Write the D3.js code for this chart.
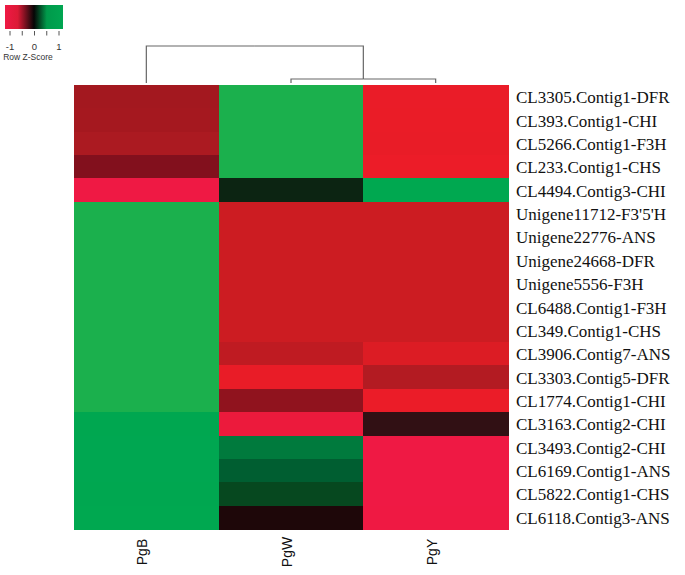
<!DOCTYPE html>
<html>
<head>
<meta charset="utf-8">
<script src="https://cdn.jsdelivr.net/npm/d3@7"></script>
<style>
  body { margin: 0; background: #fff; }
  svg { display: block; }
</style>
</head>
<body>
<div id="chart"></div>
<script>
var samples = ["PgB", "PgW", "PgY"];

var genes = [
  "CL3305.Contig1-DFR", "CL393.Contig1-CHI", "CL5266.Contig1-F3H", "CL233.Contig1-CHS",
  "CL4494.Contig3-CHI", "Unigene11712-F3'5'H", "Unigene22776-ANS", "Unigene24668-DFR",
  "Unigene5556-F3H", "CL6488.Contig1-F3H", "CL349.Contig1-CHS", "CL3906.Contig7-ANS",
  "CL3303.Contig5-DFR", "CL1774.Contig1-CHI", "CL3163.Contig2-CHI", "CL3493.Contig2-CHI",
  "CL6169.Contig1-ANS", "CL5822.Contig1-CHS", "CL6118.Contig3-ANS"
];

// row z-scores, one array per sample (same order as genes)
var zPgB = [-0.32, -0.33, -0.36, -0.20, -1.00, 1.155, 1.155, 1.155, 1.155, 1.155, 1.155,
            1.15, 1.15, 1.10, 0.98, 0.93, 0.96, 0.98, 1.01];
var zPgW = [1.12, 1.12, 1.13, 1.08, 0.01, -0.577, -0.577, -0.577, -0.577, -0.577, -0.577,
            -0.50, -0.75, -0.25, -0.92, 0.12, 0.07, 0.04, -0.02];
var zPgY = [-0.80, -0.79, -0.77, -0.88, 1.00, -0.577, -0.577, -0.577, -0.577, -0.577, -0.577,
            -0.65, -0.40, -0.85, -0.06, -1.05, -1.03, -1.02, -0.99];

// column dendrogram: PgW+PgY merge first, then PgB joins
var mergeHeights = [0.4, 3.7];

var keyTicks = [-1, -0.5, 0, 0.5, 1];
var keyLabels = [-1, 0, 1];

// colour ramp (red - black - green)
var zStops = [-1.0, -0.92, -0.88, -0.72, -0.65, -0.58, -0.5, -0.4, -0.32, -0.2, -0.06, -0.02, 0,
              0.04, 0.07, 0.12, 0.9, 1.02, 1.08];
var colStops = ["#ef1944", "#ec1a3c", "#ec1c28", "#e81c27", "#dc1c24", "#cc1c22", "#bf1b22", "#b31b22",
                "#a3181f", "#82101d", "#311014", "#1e0709", "#0e180e", "#06481f", "#005e31", "#007a3d",
                "#00a651", "#00a850", "#1bb04d"];

var color = d3.scaleLinear().domain(zStops).range(colStops).clamp(true);

var values = { PgB: zPgB, PgW: zPgW, PgY: zPgY };

var svg = d3.select("#chart").append("svg")
  .attr("width", 685)
  .attr("height", 575);

var x = d3.scaleBand().domain(samples).range([74, 508]);
var y = d3.scaleBand().domain(genes).range([85, 529]);

// cells
var cells = [];
genes.forEach(function(g, i) {
  samples.forEach(function(s) {
    cells.push({ gene: g, sample: s, z: values[s][i] });
  });
});

svg.append("g").selectAll("rect")
  .data(cells)
  .enter().append("rect")
  .attr("x", function(d) { return x(d.sample); })
  .attr("y", function(d) { return y(d.gene); })
  .attr("width", x.bandwidth() + 0.5)
  .attr("height", y.bandwidth() + 0.5)
  .attr("shape-rendering", "crispEdges")
  .style("fill", function(d) { return color(d.z); });

// row labels
svg.append("g").selectAll("text")
  .data(genes)
  .enter().append("text")
  .attr("x", 516)
  .attr("y", function(d) { return y(d) + y.bandwidth() / 2 + 6.5; })
  .style("font", "17px 'Liberation Serif', 'Times New Roman', serif")
  .style("fill", "#111")
  .text(function(d) { return d; });

// column labels
svg.append("g").selectAll("text")
  .data(samples)
  .enter().append("text")
  .attr("transform", function(d) {
    return "translate(" + (x(d) + x.bandwidth() / 2 + 1) + ",552) rotate(-90)";
  })
  .attr("text-anchor", "middle")
  .style("font", "14px 'Liberation Sans', Arial, sans-serif")
  .style("fill", "#111")
  .text(function(d) { return d; });

// dendrogram
var yd = d3.scaleLinear().domain([0, mergeHeights[1]]).range([83, 46]);
var tree = d3.hierarchy({
  height: mergeHeights[1],
  children: [
    { name: "PgB", height: 0 },
    { height: mergeHeights[0], children: [{ name: "PgW", height: 0 }, { name: "PgY", height: 0 }] }
  ]
});
tree.eachAfter(function(n) {
  n.px = n.children ? d3.mean(n.children, function(c) { return c.px; })
                    : x(n.data.name) + x.bandwidth() / 2;
  n.py = yd(n.data.height);
});

svg.append("g").selectAll("path")
  .data(tree.links())
  .enter().append("path")
  .attr("d", function(l) {
    return "M" + l.target.px + "," + l.target.py + "V" + l.source.py + "H" + l.source.px;
  })
  .style("fill", "none")
  .style("stroke", "#666")
  .style("stroke-width", 1.2);

// colour key
var defs = svg.append("defs");
var grad = defs.append("linearGradient").attr("id", "keygrad");
[[0, "#ef1944"], [0.22, "#dc1a36"], [0.5, "#060606"], [0.72, "#009a4b"], [1, "#00a651"]]
  .forEach(function(s) {
    grad.append("stop").attr("offset", s[0]).attr("stop-color", s[1]);
  });

var key = svg.append("g");
key.append("rect")
  .attr("x", 5).attr("y", 5)
  .attr("width", 58).attr("height", 24)
  .style("fill", "url(#keygrad)");

var kx = d3.scaleLinear().domain([-1, 1]).range([10, 59]);
key.selectAll(".tick")
  .data(keyTicks)
  .enter().append("line")
  .attr("class", "tick")
  .attr("x1", function(d) { return kx(d); })
  .attr("x2", function(d) { return kx(d); })
  .attr("y1", 31).attr("y2", 35.5)
  .style("stroke", "#555")
  .style("stroke-width", 1);

key.selectAll(".klab")
  .data(keyLabels)
  .enter().append("text")
  .attr("class", "klab")
  .attr("x", function(d) { return kx(d); })
  .attr("y", 50)
  .attr("text-anchor", "middle")
  .style("font", "9.5px 'Liberation Sans', Arial, sans-serif")
  .style("fill", "#333")
  .text(function(d) { return d; });

key.append("text")
  .attr("x", 28).attr("y", 60)
  .attr("text-anchor", "middle")
  .style("font", "8.5px 'Liberation Sans', Arial, sans-serif")
  .style("fill", "#333")
  .text("Row Z-Score");
</script>
</body>
</html>
